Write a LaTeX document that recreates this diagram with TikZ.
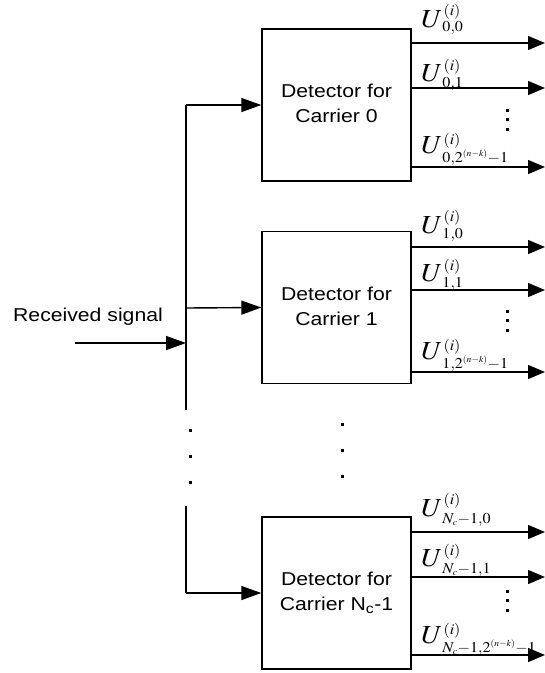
\documentclass[tikz,border=0pt]{standalone}
\usepackage{graphicx}
\usepackage{mathptmx}
\usepackage[no-math]{fontspec}
\newfontfamily\arialfont{Liberation Sans}
\usetikzlibrary{arrows.meta}
\DeclareMathSizes{15}{15}{9}{7}
\newcommand{\sx}[1]{\scalebox{1.14}[1]{#1}}
\newcommand{\twoline}[2]{\sx{\begin{tabular}{@{}c@{}}#1\\#2\end{tabular}}}
\newcommand{\ulab}[3]{\scalebox{1.07}[1]{$U$\rlap{\hspace{1pt}\raisebox{#2pt}{\fontsize{15}{15}\selectfont$(i)$}}\raisebox{-#3pt}{\fontsize{15}{15}\selectfont$#1$}}}
\tikzset{
 detbox/.style={draw, line width=1.4pt, minimum width=149pt, minimum height=152pt, inner sep=0pt, align=center, font=\arialfont\fontsize{18.6}{25}\selectfont},
 arr/.style={-{Triangle[length=20pt,width=14pt]}, line width=1.4pt},
 outarr/.style={-{Triangle[length=17pt,width=14pt]}, line width=1.4pt},
 plain/.style={line width=1.4pt},
 ulabel/.style={anchor=base west, inner sep=0pt, font=\fontsize{26}{30}\selectfont},
 dotsq/.style={fill, minimum size=3pt, inner sep=0pt},
 txt/.style={font=\arialfont\fontsize{18.6}{25}\selectfont, inner sep=0pt}
}
\begin{document}
\begin{tikzpicture}[x=1pt,y=-1pt]
\useasboundingbox (0,0) rectangle (545,673);

% boxes
\node[detbox] (b0) at (336.5,105) {\twoline{Detector for}{Carrier 0}};
\node[detbox] (b1) at (336.5,307.5) {\twoline{Detector for}{Carrier 1}};
\node[detbox] (b2) at (336.5,593) {\twoline{Detector for}{Carrier N\textsubscript{c}-1}};

% bus
\coordinate (t0) at (186,105);
\coordinate (t1) at (186,308);
\coordinate (tb) at (186,410);
\coordinate (tc) at (186,506);
\coordinate (t2) at (186,593);
\draw[plain] (tb) -- (t0);
\draw[arr] (t0) -- (b0.west);
\draw[arr] (t1) -- (b1.west);
\draw[plain] (tc) -- (t2);
\draw[arr] (t2) -- (b2.west);

% received signal
\node[txt, anchor=base] (rl) at (88,321) {\sx{Received signal}};
\coordinate (rs) at (75,343);
\coordinate (rj) at (186,343);
\draw[arr] (rs) -- (rj);

% bus dots
\node[dotsq] (bd1) at (190,430) {};
\node[dotsq] (bd2) at (190,456) {};
\node[dotsq] (bd3) at (190,482) {};
% middle dots
\node[dotsq] (md1) at (342,424) {};
\node[dotsq] (md2) at (342,450) {};
\node[dotsq] (md3) at (342,476) {};

% outputs box 0
\coordinate (o00) at (545,43);
\coordinate (o01) at (545,88);
\coordinate (o02) at (545,167);
\draw[outarr] (b0.east |- o00) -- (o00);
\draw[outarr] (b0.east |- o01) -- (o01);
\draw[outarr] (b0.east |- o02) -- (o02);
\node[ulabel] (l00) at (421,27) {\ulab{0{,}0}{11.5}{4}};
\node[ulabel] (l01) at (421,81) {\ulab{0{,}1}{11}{6}};
\node[ulabel] (l02) at (421,153) {\ulab{0{,}2^{(n-k)}{-}1}{9}{9}};
\node[dotsq] (d01) at (507,110) {};
\node[dotsq] (d02) at (507,119.5) {};
\node[dotsq] (d03) at (507,129) {};

% outputs box 1
\coordinate (o10) at (545,247);
\coordinate (o11) at (545,290);
\coordinate (o12) at (545,372);
\draw[outarr] (b1.east |- o10) -- (o10);
\draw[outarr] (b1.east |- o11) -- (o11);
\draw[outarr] (b1.east |- o12) -- (o12);
\node[ulabel] (l10) at (421,233) {\ulab{1{,}0}{11.5}{5}};
\node[ulabel] (l11) at (421,281) {\ulab{1{,}1}{11}{6}};
\node[ulabel] (l12) at (421,359) {\ulab{1{,}2^{(n-k)}{-}1}{9}{9}};
\node[dotsq] (d11) at (507,311) {};
\node[dotsq] (d12) at (507,320.5) {};
\node[dotsq] (d13) at (507,330) {};

% outputs box 2
\coordinate (o20) at (545,532);
\coordinate (o21) at (545,577);
\coordinate (o22) at (545,655);
\draw[outarr] (b2.east |- o20) -- (o20);
\draw[outarr] (b2.east |- o21) -- (o21);
\draw[outarr] (b2.east |- o22) -- (o22);
\node[ulabel] (l20) at (421,516) {\ulab{N_c{-}1{,}0}{11.5}{7}};
\node[ulabel] (l21) at (421,566) {\ulab{N_c{-}1{,}1}{11}{7}};
\node[ulabel] (l22) at (421,643) {\ulab{N_c{-}1{,}2^{(n-k)}{-}1}{9}{9}};
\node[dotsq] (d21) at (507,591) {};
\node[dotsq] (d22) at (507,600.5) {};
\node[dotsq] (d23) at (507,610) {};
\end{tikzpicture}
\end{document}
